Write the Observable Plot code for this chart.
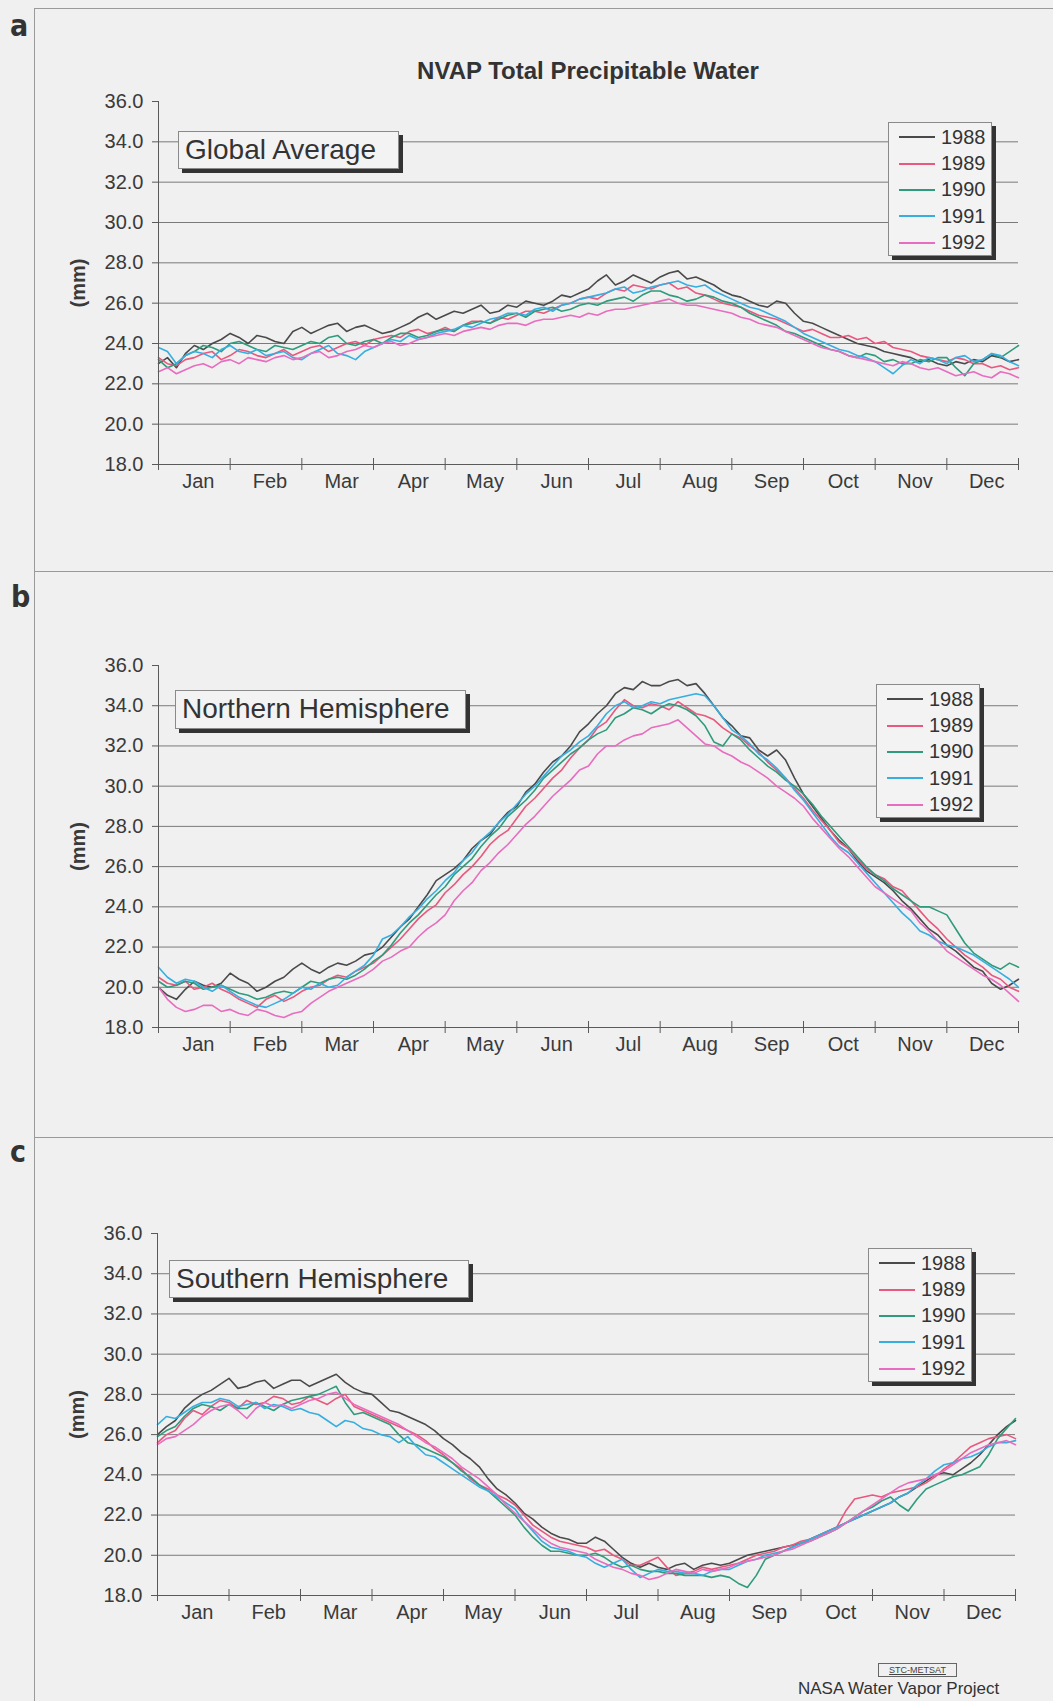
<!DOCTYPE html>
<html><head><meta charset="utf-8">
<script src="https://cdn.jsdelivr.net/npm/d3@7"></script>
<script src="https://cdn.jsdelivr.net/npm/@observablehq/plot@0.6"></script>
<style>
body{margin:0;background:#f0f0f0;}
#page{position:relative;width:1053px;height:1701px;overflow:hidden;background:#f0f0f0;font-family:"Liberation Sans",Arial,sans-serif;color:#333;}
.hl{position:absolute;height:0;border-top:1px solid #9a9a9a;}
.vl{position:absolute;width:0;border-left:1px solid #9a9a9a;}
.letter{position:absolute;font-family:"DejaVu Sans Condensed","DejaVu Sans",sans-serif;font-weight:bold;font-size:30px;line-height:30px;color:#333;}
.panel{position:absolute;left:0;}
.lbl{position:absolute;box-sizing:border-box;border:1px solid #8a8a8a;background:#f3f3f3;box-shadow:4px 4px 0 #333;font-size:28px;line-height:36px;padding-left:6px;white-space:nowrap;color:#333;}
.legend{position:absolute;box-sizing:border-box;width:104px;height:134px;border:1px solid #8a8a8a;background:#f3f3f3;box-shadow:4px 4px 0 #333;padding-top:1px;}
.row{height:26.4px;display:flex;align-items:center;font-size:20px;color:#333;}
.sw{width:36px;height:0;border-top:2px solid;margin-left:10px;margin-right:6px;}
</style></head>
<body>
<div id="page"></div>
<script>
// ---------- data ----------
const months = ["Jan","Feb","Mar","Apr","May","Jun","Jul","Aug","Sep","Oct","Nov","Dec"];
const monthEdges = [0,1,2,3,4,5,6,7,8,9,10,11,12];
const monthCenters = [0.5,1.5,2.5,3.5,4.5,5.5,6.5,7.5,8.5,9.5,10.5,11.5];
const yTicks = [18,20,22,24,26,28,30,32,34,36];
const gridLines = [20,22,24,26,28,30,32,34];
const years = ["1988","1989","1990","1991","1992"];
const yearColors = ["#4a4a4a","#e8587f","#2f9b7c","#36aee0","#e86cbf"];

// Global average (mm), samples evenly spaced over Jan..Dec
const global1988 = [23.0,23.3,22.8,23.5,23.9,23.7,24.0,24.2,24.5,24.3,24.0,24.4,24.3,24.1,24.0,24.6,24.8,24.5,24.7,24.9,25.0,24.6,24.8,24.9,24.7,24.5,24.6,24.8,25.0,25.3,25.5,25.2,25.4,25.6,25.5,25.7,25.9,25.5,25.6,25.9,25.8,26.1,26.0,25.9,26.1,26.4,26.3,26.5,26.7,27.1,27.4,26.9,27.1,27.4,27.2,27.0,27.3,27.5,27.6,27.2,27.3,27.1,26.9,26.6,26.4,26.3,26.1,25.9,25.8,26.1,26.0,25.5,25.1,25.0,24.8,24.6,24.4,24.2,24.0,23.9,23.8,23.6,23.5,23.4,23.3,23.1,23.2,23.0,22.9,23.1,23.0,23.2,23.1,23.4,23.3,23.1,23.2];
const global1989 = [23.3,23.0,22.9,23.2,23.3,23.5,23.6,23.2,23.4,23.7,23.6,23.4,23.3,23.5,23.7,23.4,23.6,23.8,23.9,23.6,23.8,24.0,24.1,23.9,24.2,24.3,24.4,24.3,24.6,24.7,24.5,24.6,24.8,24.6,24.9,25.1,25.1,25.0,25.3,25.2,25.4,25.6,25.6,25.5,25.7,25.9,26.0,26.2,26.3,26.2,26.5,26.7,26.6,26.9,26.8,26.7,26.9,27.0,26.7,26.8,26.5,26.4,26.2,26.0,25.9,25.8,25.6,25.4,25.3,25.2,25.0,24.8,24.6,24.7,24.5,24.3,24.3,24.4,24.2,24.3,24.0,24.1,23.8,23.7,23.6,23.4,23.3,23.2,23.1,23.3,23.2,23.0,23.0,22.8,22.9,22.7,22.8];
const global1990 = [23.2,22.8,23.0,23.4,23.6,23.9,23.8,23.6,24.0,24.1,23.9,23.7,23.6,23.9,23.8,23.7,23.9,24.1,24.0,24.3,24.4,24.0,23.9,24.1,24.2,24.0,24.3,24.5,24.5,24.3,24.4,24.6,24.7,24.6,24.9,25.0,25.1,25.0,25.2,25.4,25.5,25.3,25.6,25.7,25.8,25.6,25.7,25.9,26.0,25.9,26.1,26.2,26.3,26.1,26.4,26.6,26.6,26.4,26.3,26.1,26.2,26.4,26.3,26.1,26.0,25.8,25.5,25.3,25.1,24.9,24.6,24.5,24.3,24.1,23.9,23.7,23.6,23.4,23.3,23.5,23.4,23.1,23.2,23.0,23.0,23.2,23.1,23.3,23.3,22.8,22.4,23.0,23.2,23.5,23.3,23.6,23.9];
const global1991 = [23.8,23.6,23.0,23.4,23.6,23.5,23.3,23.7,23.9,23.6,23.5,23.7,23.4,23.5,23.6,23.3,23.2,23.5,23.7,23.9,23.5,23.4,23.2,23.6,23.8,24.0,24.2,24.1,24.4,24.2,24.3,24.5,24.6,24.7,24.9,24.8,25.0,25.2,25.3,25.5,25.5,25.4,25.7,25.8,25.6,25.9,26.0,26.2,26.3,26.4,26.5,26.7,26.8,26.5,26.6,26.8,26.9,27.0,27.1,26.9,26.8,26.9,26.6,26.4,26.2,26.0,25.8,25.7,25.5,25.3,25.1,24.8,24.5,24.3,24.1,23.9,23.7,23.6,23.4,23.3,23.1,22.8,22.5,22.9,23.2,23.0,23.3,23.2,23.0,23.3,23.4,23.1,23.2,23.5,23.4,23.1,22.9];
const global1992 = [22.6,22.8,22.5,22.7,22.9,23.0,22.8,23.1,23.2,23.0,23.3,23.2,23.1,23.3,23.4,23.2,23.3,23.5,23.6,23.3,23.4,23.6,23.7,23.9,23.8,24.0,24.1,23.9,24.0,24.2,24.3,24.4,24.5,24.4,24.6,24.7,24.8,24.7,24.9,25.0,25.0,24.9,25.1,25.2,25.2,25.3,25.4,25.3,25.5,25.4,25.6,25.7,25.7,25.8,25.9,26.0,26.1,26.2,26.0,25.9,25.9,25.8,25.7,25.6,25.5,25.3,25.2,25.0,24.9,24.8,24.6,24.4,24.2,24.0,23.8,23.7,23.6,23.4,23.3,23.2,23.1,23.0,22.9,23.1,23.0,22.8,22.7,22.8,22.6,22.4,22.5,22.6,22.4,22.3,22.6,22.5,22.3];

// Northern Hemisphere (mm)
const north1988 = [20.0,19.6,19.4,19.9,20.3,20.1,20.0,20.2,20.7,20.4,20.2,19.8,20.0,20.3,20.5,20.9,21.2,20.9,20.7,21.0,21.2,21.1,21.3,21.6,21.7,22.0,22.5,23.0,23.4,24.0,24.6,25.3,25.6,25.9,26.3,26.9,27.3,27.6,28.2,28.7,29.0,29.7,30.1,30.7,31.2,31.5,32.0,32.7,33.1,33.6,34.0,34.6,34.9,34.8,35.2,35.0,35.0,35.2,35.3,35.0,35.1,34.6,34.0,33.4,33.0,32.5,32.4,31.8,31.5,31.8,31.3,30.4,29.6,29.0,28.4,27.8,27.3,26.9,26.3,25.8,25.5,25.2,24.8,24.3,23.9,23.4,22.9,22.6,22.1,21.8,21.4,21.0,20.8,20.2,19.9,20.1,20.4];
const north1989 = [20.5,20.2,20.1,20.3,19.9,20.0,20.2,19.9,19.7,19.4,19.2,19.0,19.4,19.6,19.3,19.5,19.8,20.0,20.1,20.4,20.6,20.5,20.8,21.0,21.2,21.6,22.0,22.4,22.9,23.4,23.8,24.1,24.7,25.1,25.6,26.0,26.5,27.1,27.5,27.8,28.4,29.0,29.4,29.9,30.4,30.8,31.4,31.9,32.3,32.9,33.2,33.8,34.3,34.0,33.9,34.1,34.0,33.8,34.2,33.9,33.6,33.5,33.3,32.9,32.6,32.4,32.0,31.7,31.2,30.8,30.4,29.9,29.4,28.8,28.3,27.8,27.2,26.9,26.4,25.9,25.6,25.4,25.0,24.8,24.3,23.8,23.3,22.9,22.4,22.0,21.6,21.3,21.0,20.6,20.4,20.0,19.8];
const north1990 = [20.3,20.0,20.1,20.3,20.2,19.9,20.0,20.1,19.9,19.7,19.6,19.4,19.5,19.7,19.8,19.7,20.0,20.3,20.2,20.4,20.5,20.4,20.6,20.9,21.3,21.6,22.1,22.7,23.2,23.6,24.1,24.6,25.0,25.6,26.0,26.4,27.0,27.5,27.9,28.5,28.9,29.3,29.8,30.4,30.8,31.2,31.6,31.9,32.3,32.6,32.8,33.4,33.6,33.9,33.8,33.6,33.9,34.1,34.0,33.8,33.5,33.0,32.2,32.0,32.6,32.3,31.8,31.4,31.0,30.7,30.3,30.0,29.6,29.1,28.5,28.0,27.5,27.0,26.5,26.0,25.6,25.3,24.9,24.6,24.3,24.0,24.0,23.8,23.6,22.9,22.2,21.7,21.4,21.1,20.9,21.2,21.0];
const north1991 = [21.0,20.5,20.2,20.4,20.3,20.0,19.8,20.1,19.8,19.5,19.3,19.1,19.0,19.2,19.4,19.7,20.0,19.9,20.2,20.0,20.1,20.5,20.8,21.1,21.6,22.4,22.6,23.0,23.5,23.9,24.4,24.8,25.3,25.7,26.3,26.7,27.3,27.7,28.2,28.6,29.1,29.6,30.0,30.5,31.0,31.5,31.8,32.2,32.5,33.0,33.6,34.0,34.2,33.9,34.0,34.2,34.1,34.3,34.4,34.5,34.6,34.5,34.0,33.4,32.8,32.5,32.1,31.6,31.3,30.9,30.4,29.8,29.3,28.7,28.1,27.5,27.0,26.7,26.2,25.7,25.2,24.7,24.2,23.7,23.3,22.8,22.6,22.3,22.1,22.0,21.8,21.6,21.3,21.0,20.7,20.4,20.0];
const north1992 = [20.0,19.4,19.0,18.8,18.9,19.1,19.1,18.8,18.9,18.7,18.6,18.9,18.8,18.6,18.5,18.7,18.8,19.2,19.5,19.8,20.0,20.2,20.4,20.6,20.9,21.3,21.5,21.8,22.0,22.5,22.9,23.2,23.6,24.3,24.8,25.2,25.8,26.2,26.7,27.1,27.6,28.1,28.5,29.0,29.5,29.9,30.3,30.8,31.0,31.6,32.0,32.0,32.3,32.5,32.6,32.9,33.0,33.1,33.3,32.9,32.5,32.1,32.0,31.7,31.5,31.2,31.0,30.7,30.4,30.0,29.7,29.4,29.0,28.4,27.9,27.4,26.9,26.5,26.0,25.5,25.0,24.7,24.4,24.1,23.8,23.2,22.8,22.3,21.8,21.5,21.2,20.9,20.6,20.4,20.1,19.7,19.3];

// Southern Hemisphere (mm)
const south1988 = [26.0,26.4,26.7,27.3,27.7,28.0,28.2,28.5,28.8,28.3,28.4,28.6,28.7,28.3,28.5,28.7,28.7,28.4,28.6,28.8,29.0,28.6,28.3,28.1,28.0,27.6,27.2,27.1,26.9,26.7,26.5,26.2,25.8,25.5,25.1,24.8,24.4,23.8,23.3,23.0,22.6,22.1,21.8,21.4,21.1,20.9,20.8,20.6,20.6,20.9,20.7,20.3,19.9,19.6,19.4,19.6,19.4,19.3,19.5,19.6,19.3,19.5,19.6,19.5,19.6,19.8,20.0,20.1,20.2,20.3,20.4,20.5,20.6,20.8,21.0,21.2,21.4,21.6,21.8,22.0,22.2,22.4,22.6,22.9,23.1,23.4,23.7,24.0,24.1,24.0,24.3,24.6,25.0,25.5,26.0,26.4,26.7];
const south1989 = [25.6,26.0,26.2,26.8,27.2,27.0,27.4,27.7,27.6,27.3,27.7,27.5,27.6,27.9,27.8,27.5,27.6,27.9,27.7,27.5,27.8,28.0,27.4,27.2,27.0,26.8,26.6,26.4,26.2,26.0,25.7,25.3,25.0,24.6,24.3,23.8,23.5,23.3,23.0,22.8,22.5,22.0,21.5,21.2,20.9,20.7,20.6,20.5,20.4,20.2,20.3,20.0,19.8,19.5,19.5,19.7,19.9,19.4,19.0,19.1,19.2,19.4,19.3,19.4,19.5,19.6,19.8,20.0,20.1,20.2,20.4,20.5,20.7,20.8,21.0,21.2,21.4,22.2,22.8,22.9,23.0,22.9,23.1,23.2,23.3,23.4,23.6,23.9,24.3,24.6,25.0,25.4,25.6,25.8,25.9,26.0,25.8];
const south1990 = [25.9,26.2,26.4,26.9,27.3,27.5,27.4,27.2,27.5,27.3,27.3,27.6,27.4,27.2,27.5,27.7,27.8,27.9,28.0,28.2,28.4,27.6,27.0,27.1,26.9,26.7,26.5,26.0,25.6,25.5,25.3,25.1,24.9,24.6,24.2,23.9,23.5,23.2,22.8,22.4,22.0,21.4,20.9,20.5,20.2,20.2,20.1,20.0,20.0,20.1,19.9,19.6,19.4,19.5,19.3,19.2,19.2,19.1,19.1,19.0,19.0,19.0,18.9,19.0,18.9,18.6,18.4,19.0,19.8,20.0,20.2,20.4,20.6,20.7,20.9,21.1,21.3,21.6,21.9,22.2,22.4,22.7,22.9,22.5,22.2,22.8,23.3,23.5,23.7,23.9,24.0,24.2,24.4,25.0,25.8,26.3,26.8];
const south1991 = [26.5,26.9,26.8,27.1,27.4,27.6,27.6,27.8,27.7,27.4,27.5,27.6,27.3,27.5,27.4,27.2,27.3,27.1,27.0,26.7,26.4,26.7,26.6,26.3,26.2,26.0,25.9,25.6,25.9,25.4,25.0,24.9,24.6,24.3,24.0,23.7,23.4,23.2,22.9,22.6,22.3,21.7,21.2,20.7,20.4,20.3,20.2,20.0,19.9,19.6,19.4,19.6,19.8,19.3,18.9,19.1,19.3,19.2,19.2,19.1,19.1,19.0,19.2,19.3,19.3,19.5,19.7,19.8,20.0,20.1,20.2,20.4,20.6,20.8,21.0,21.2,21.4,21.6,21.8,22.0,22.2,22.4,22.6,22.9,23.1,23.5,23.8,24.2,24.5,24.6,24.8,24.9,25.1,25.4,25.6,25.6,25.7];
const south1992 = [25.5,25.8,25.9,26.2,26.5,26.9,27.2,27.4,27.5,27.2,26.8,27.3,27.6,27.4,27.5,27.3,27.5,27.7,27.8,28.0,28.1,27.8,27.5,27.3,27.1,26.9,26.7,26.5,26.2,25.9,25.6,25.4,25.1,24.8,24.4,24.1,23.8,23.4,23.0,22.5,22.1,21.7,21.3,20.9,20.6,20.4,20.3,20.2,20.1,19.8,19.6,19.4,19.3,19.1,19.0,18.8,18.9,19.1,19.3,19.2,19.1,19.3,19.2,19.3,19.4,19.6,19.7,19.8,19.9,20.0,20.2,20.3,20.5,20.7,20.9,21.1,21.3,21.6,21.9,22.2,22.5,22.8,23.1,23.4,23.6,23.7,23.8,24.0,24.2,24.5,24.8,25.1,25.3,25.5,25.6,25.7,25.5];

// ---------- layout ----------
const panels = [
  {letter:"a", name:"Global Average", series:[global1988,global1989,global1990,global1991,global1992],
   top:81, ph:363, ml:158, mr:35, letterPos:[10,11], box:[178,131,221,38], legend:[888,122]},
  {letter:"b", name:"Northern Hemisphere", series:[north1988,north1989,north1990,north1991,north1992],
   top:645, ph:362, ml:158, mr:35, letterPos:[11,582], box:[175,690,291,39], legend:[876,684]},
  {letter:"c", name:"Southern Hemisphere", series:[south1988,south1989,south1990,south1991,south1992],
   top:1213, ph:362, ml:157, mr:38, letterPos:[10,1137], box:[169,1260,300,38], legend:[868,1248]}
];

const page = document.getElementById("page");
function add(html){ const d=document.createElement("div"); d.innerHTML=html; while(d.firstChild) page.appendChild(d.firstChild); }

// frame lines
add(`<div class="hl" style="left:34px;top:8px;width:1019px"></div>`);
add(`<div class="vl" style="left:34px;top:8px;height:1693px"></div>`);
add(`<div class="hl" style="left:34px;top:571px;width:1019px"></div>`);
add(`<div class="hl" style="left:34px;top:1137px;width:1019px"></div>`);

// title
add(`<div style="position:absolute;left:588px;top:59px;transform:translateX(-50%);font-size:24px;line-height:24px;font-weight:bold;white-space:nowrap;color:#333">NVAP Total Precipitable Water</div>`);

function makePlot(p){
  const rows = [];
  p.series.forEach((vals,k)=>{
    const step = 12/(vals.length-1);
    vals.forEach((v,i)=>rows.push({m:i*step, v, year:years[k]}));
  });
  const H = 20 + p.ph + 47;
  return Plot.plot({
    width:1053, height:H,
    marginLeft:p.ml, marginRight:p.mr, marginTop:20, marginBottom:47,
    style:{background:"transparent", fontFamily:"'Liberation Sans', Arial, sans-serif", fontSize:"20px", color:"#3a3a3a", overflow:"visible"},
    x:{domain:[0,12]},
    y:{domain:[18,36]},
    color:{domain:years, range:yearColors},
    marks:[
      Plot.ruleY(gridLines, {stroke:"#7a7a7a", strokeWidth:1}),
      Plot.line(rows, {x:"m", y:"v", z:"year", stroke:"year", strokeWidth:1.6}),
      Plot.ruleX([0], {stroke:"#5a5a5a"}),
      Plot.ruleY([18], {stroke:"#5a5a5a"}),
      Plot.axisY(yTicks, {tickSize:6, tickPadding:9, tickFormat:d=>d.toFixed(1), label:null, stroke:"#5a5a5a"}),
      Plot.axisX(monthEdges, {tickSize:12, dy:-6, tickFormat:()=>"", label:null, stroke:"#5a5a5a"}),
      Plot.axisX(monthCenters, {tickSize:0, tickPadding:9, dx:4, tickFormat:d=>months[Math.floor(d)], label:null}),
      Plot.text(["(mm)"], {text:d=>d, frameAnchor:"left", textAnchor:"middle", dx:-80, rotate:-90, fontWeight:"bold", fontSize:20})
    ]
  });
}

for (const p of panels){
  const wrap = document.createElement("div");
  wrap.className = "panel";
  wrap.style.top = p.top + "px";
  wrap.appendChild(makePlot(p));
  page.appendChild(wrap);
  add(`<div class="letter" style="left:${p.letterPos[0]}px;top:${p.letterPos[1]}px">${p.letter}</div>`);
  add(`<div class="lbl" style="left:${p.box[0]}px;top:${p.box[1]}px;width:${p.box[2]}px;height:${p.box[3]}px">${p.name}</div>`);
  const rowsHtml = years.map((y,i)=>`<div class="row"><div class="sw" style="border-color:${yearColors[i]}"></div>${y}</div>`).join("");
  add(`<div class="legend" style="left:${p.legend[0]}px;top:${p.legend[1]}px">${rowsHtml}</div>`);
}

// footer
add(`<div style="position:absolute;left:878px;top:1663px;width:79px;height:14px;box-sizing:border-box;border:1px solid #666;font-size:9px;line-height:12px;text-align:center;color:#444;text-decoration:underline">STC-METSAT</div>`);
add(`<div style="position:absolute;left:798px;top:1680px;font-size:17px;line-height:17px;white-space:nowrap;color:#333">NASA Water Vapor Project</div>`);
</script>
</body></html>
